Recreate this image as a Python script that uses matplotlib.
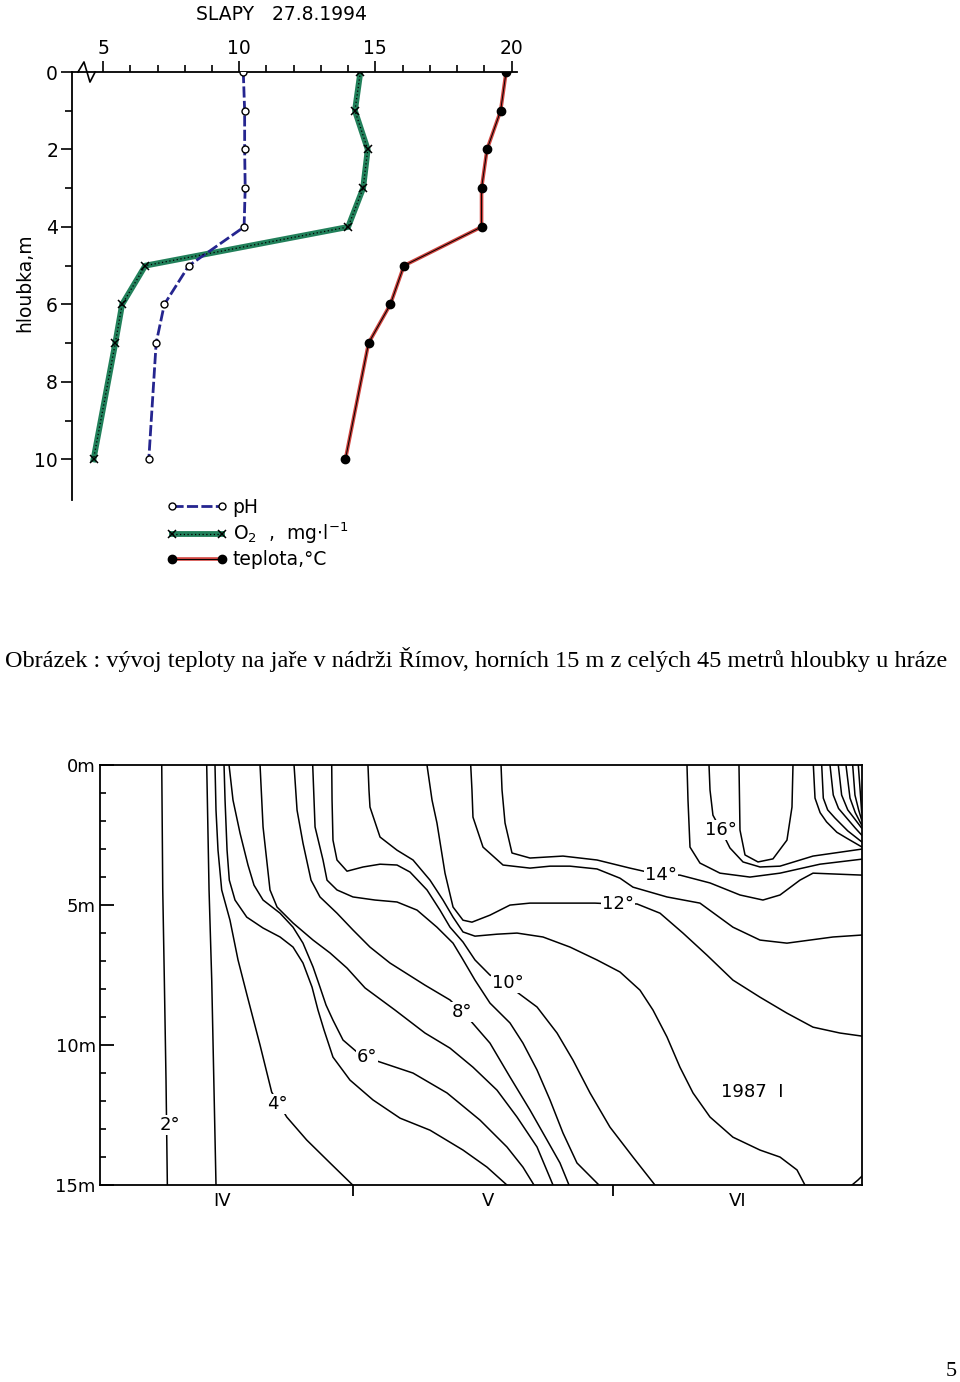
import numpy as np
import matplotlib
matplotlib.use('Agg')
import matplotlib.pyplot as plt
from matplotlib.lines import Line2D

# --- horni graf: SLAPY 27.8.1994 (profil v hloubce)
hloubka = [0, 1, 2, 3, 4, 5, 6, 7, 10]
ph = [10.15, 10.2, 10.2, 10.22, 10.18, 8.15, 7.25, 6.95, 6.68]
kyslik = [14.45, 14.25, 14.72, 14.55, 14.0, 6.55, 5.7, 5.45, 4.65]
teplota = [19.8, 19.6, 19.1, 18.9, 18.9, 16.05, 15.55, 14.75, 13.9]

# --- dolni graf: izotermy Rimov 1987, den od 1.4. / hloubka m
t2_den = [7.37, 7.49, 7.68, 7.88, 8.04]
t2_hl = [0, 4.46, 7.68, 11.25, 15.0]
t3_den = [12.74, 13.02, 13.34, 13.85]
t3_hl = [0, 4.46, 7.68, 15.0]
t4_den = [13.73, 13.85, 14.09, 14.53, 15.52, 16.48, 17.55, 19.11, 20.50, 22.30, 24.68, 27.47, 30.18]
t4_hl = [0, 1.61, 3.04, 4.46, 5.54, 6.96, 8.21, 10.0, 11.68, 12.57, 13.39, 14.21, 15.0]
t5_den = [14.81, 14.93, 15.17, 15.44, 16.12, 17.52, 19.47, 21.50, 23.05, 24.24, 25.32, 26.03,
          26.75, 27.82, 29.85, 32.60, 35.83, 39.41, 43.35, 46.22, 48.60]
t5_hl = [0, 1.25, 3.04, 4.11, 4.82, 5.43, 5.82, 6.14, 6.5, 7.07, 7.93, 8.75,
         9.46, 10.43, 11.25, 11.96, 12.61, 13.04, 13.75, 14.36, 15.0]
t6_den = [15.41, 15.88, 16.72, 17.67, 18.39, 19.47, 21.50, 23.05, 24.24, 25.44, 26.27, 26.99,
          27.82, 29.02, 30.69, 31.88, 33.08, 37.38, 41.44, 45.38, 48.60, 50.51, 51.83]
t6_hl = [0, 1.25, 2.43, 3.57, 4.29, 4.82, 5.29, 5.79, 6.36, 7.21, 7.93, 8.57,
         9.11, 9.82, 10.25, 10.43, 10.57, 11.0, 11.71, 12.68, 13.64, 14.36, 15.0]
t7_den = [19.11, 19.47, 20.30, 21.14, 23.05, 25.44, 27.47, 29.50, 31.65, 35.23, 38.81, 41.80,
          44.54, 47.41, 49.80, 52.19, 54.10]
t7_hl = [0, 2.21, 4.46, 5.07, 5.64, 6.25, 6.71, 7.25, 7.96, 8.75, 9.57, 10.11,
         10.79, 11.61, 12.57, 13.64, 15.0]
t8_den = [23.17, 23.53, 24.24, 25.20, 26.27, 28.30, 30.21, 32.24, 34.63, 38.81, 41.80, 43.23,
          44.19, 46.57, 48.96, 51.35, 53.38, 54.93, 56.01]
t8_hl = [0, 1.61, 2.79, 4.11, 4.71, 5.29, 5.89, 6.5, 7.07, 7.86, 8.39, 8.82,
         9.11, 9.93, 11.14, 12.32, 13.39, 14.21, 15.0]
t9_den = [25.40, 25.68, 26.63, 27.11, 28.30, 30.21, 32.84, 35.47, 37.86, 40.24, 42.16, 43.23,
          44.78, 46.57, 48.96, 50.51, 52.19, 53.74, 55.29, 56.96, 59.59]
t9_hl = [0, 2.21, 3.39, 4.11, 4.46, 4.71, 4.82, 4.89, 5.18, 5.79, 6.36, 6.89,
         7.68, 8.5, 9.21, 9.93, 10.89, 11.96, 13.14, 14.21, 15.0]
t10_den = [27.67, 27.71, 27.82, 28.30, 29.50, 31.41, 33.44, 35.47, 37.02, 39.05, 40.60, 41.80,
           43.35, 44.78, 46.57, 48.72, 49.80, 52.19, 54.58, 56.49, 58.52, 60.90, 63.65, 66.28]
t10_hl = [0, 1.25, 2.68, 3.39, 3.79, 3.64, 3.54, 3.57, 3.82, 4.46, 5.18, 5.79,
          6.32, 6.96, 7.5, 7.79, 8.11, 8.64, 9.57, 10.54, 11.71, 12.93, 14.0, 15.0]
t11_den = [32.00, 32.12, 32.24, 33.44, 35.47, 37.38, 39.41, 40.96, 42.16, 43.35, 44.78, 47.41,
           49.80, 52.90, 56.13, 59.35, 62.10, 64.49, 66.04, 67.71, 69.26, 70.82, 72.85, 75.59,
           78.82, 81.21, 83.24, 84.19]
t11_hl = [0, 0.89, 1.5, 2.57, 3.04, 3.39, 4.11, 4.82, 5.43, 5.96, 6.11, 6.04,
          6.0, 6.14, 6.5, 6.96, 7.39, 8.04, 8.75, 9.71, 10.79, 11.71, 12.57, 13.29,
          13.75, 14.0, 14.46, 15.0]
t12_den = [39.05, 39.65, 40.24, 41.20, 42.16, 43.35, 44.42, 46.57, 48.96, 51.35, 54.93, 59.11,
           61.26, 64.13, 66.88, 69.62, 72.49, 75.59, 78.82, 82.04, 85.15, 88.37, 91.0]
t12_hl = [0, 1.25, 2.07, 3.86, 5.07, 5.54, 5.61, 5.36, 5.0, 4.93, 4.93, 4.93,
          4.96, 4.96, 5.29, 6.0, 6.79, 7.68, 8.29, 8.86, 9.36, 9.57, 9.68]
t12b_den = [89.80, 90.52, 91.0]
t12b_hl = [15.0, 14.82, 14.68]
t13_den = [44.27, 44.42, 44.54, 45.74, 48.13, 51.35, 53.74, 56.13, 59.35, 62.10, 63.65, 67.71,
           71.65, 75.59, 78.82, 82.04, 87.54, 91.0]
t13_hl = [0, 0.89, 1.86, 2.93, 3.57, 3.68, 3.61, 3.61, 3.71, 4.04, 4.36, 4.71,
          4.93, 5.79, 6.25, 6.36, 6.14, 6.07]
t14_den = [47.89, 48.01, 48.37, 49.20, 51.35, 55.29, 59.35, 63.29, 66.99, 69.26, 72.85, 76.43,
           79.17, 81.21, 83.59, 85.15, 91.0]
t14_hl = [0, 0.89, 2.07, 3.14, 3.32, 3.25, 3.39, 3.68, 3.93, 3.93, 4.21, 4.64,
          4.82, 4.64, 4.11, 3.86, 3.93]
t15_den = [70.10, 70.22, 70.46, 71.65, 74.04, 77.62, 81.21, 85.98, 91.0]
t15_hl = [0, 1.25, 2.93, 3.5, 3.86, 4.0, 3.86, 3.54, 3.36]
t16_den = [72.73, 72.85, 73.20, 74.16, 75.23, 76.79, 78.82, 81.21, 85.15, 91.0]
t16_hl = [0, 0.89, 1.79, 2.32, 2.96, 3.46, 3.64, 3.61, 3.25, 3.0]
t17_den = [76.31, 76.43, 77.03, 78.58, 80.37, 82.04, 82.64, 82.76]
t17_hl = [0, 2.32, 3.21, 3.46, 3.35, 2.68, 1.5, 0]
t17b_den = [85.19, 85.39, 86.0, 86.77, 88.0, 89.17, 90.96]
t17b_hl = [0, 1.18, 1.7, 2.03, 2.4, 2.61, 2.92]
t18_den = [86.19, 86.38, 86.9, 87.77, 89.3, 90.96]
t18_hl = [0, 1.18, 1.6, 1.89, 2.35, 2.74]
t19_den = [87.18, 87.57, 88.2, 89.17, 90.2, 90.96]
t19_hl = [0, 1.07, 1.55, 1.89, 2.25, 2.5]
t20_den = [88.17, 88.57, 89.3, 90.2, 90.96]
t20_hl = [0, 1.07, 1.6, 1.95, 2.25]
t21_den = [89.09, 89.57, 90.2, 90.96]
t21_hl = [0, 1.18, 1.7, 2.14]
t22_den = [89.89, 90.16, 90.6, 90.96]
t22_hl = [0, 1.07, 1.6, 1.96]
t23_den = [90.56, 90.76, 90.96]
t23_hl = [0, 0.82, 1.68]

mesice = ['IV', 'V', 'VI']
popis = "Obrázek : vývoj teploty na jaře v nádrži Římov, horních 15 m z celých 45 metrů hloubky u hráze"


def horni(fig):
    ax = fig.add_axes([0.075, 0.6382, 0.4635, 0.3097])
    ax.set_xlim(3.86, 20.2)
    ax.set_ylim(11.05, 0)
    for s in ['right', 'bottom']:
        ax.spines[s].set_visible(False)
    for s in ['top', 'left']:
        ax.spines[s].set_linewidth(1.3)
    ax.xaxis.tick_top()
    ax.set_xticks([5, 10, 15, 20])
    ax.set_xticks([i for i in range(6, 20) if i % 5], minor=True)
    ax.set_yticks([0, 2, 4, 6, 8, 10])
    ax.set_yticks([1, 3, 5, 7, 9], minor=True)
    ax.tick_params(which='major', length=8, width=1.2, labelsize=13.5, pad=2)
    ax.tick_params(which='minor', length=5, width=1.2)

    # zlom osy
    ax.plot([4.08, 4.30, 4.52, 4.71], [0, -0.26, 0.26, 0], color='black', lw=1.2, clip_on=False)

    c_ph = '#25258f'
    c_o2 = '#21805a'
    c_t = '#d0443f'
    ax.plot(ph, hloubka, color=c_ph, lw=2.0, ls=(0, (4, 1.2)), zorder=3)
    ax.plot(ph, hloubka, ls='none', marker='o', ms=5, mfc='white', mec='black', mew=1.0, zorder=5)
    ax.plot(kyslik, hloubka, color=c_o2, lw=4.2, zorder=2)
    ax.plot(kyslik, hloubka, color='black', lw=0.9, ls=(0, (1, 2)), zorder=3)
    ax.plot(kyslik, hloubka, ls='none', marker='x', ms=6, mec='black', mew=1.1, zorder=5)
    ax.plot(teplota, hloubka, color=c_t, lw=2.6, zorder=2)
    ax.plot(teplota, hloubka, color='black', lw=0.7, zorder=3)
    ax.plot(teplota, hloubka, ls='none', marker='o', ms=6, mfc='black', mec='black', zorder=5)

    h1 = (Line2D([], [], color=c_ph, lw=2.0, ls=(0, (4, 1.2))),
          Line2D([], [], ls='none', marker='o', ms=5, mfc='white', mec='black', mew=1.0))
    h2 = (Line2D([], [], color=c_o2, lw=4.2),
          Line2D([], [], color='black', lw=0.9, ls=(0, (1, 2))),
          Line2D([], [], ls='none', marker='x', ms=6, mec='black', mew=1.1))
    h3 = (Line2D([], [], color=c_t, lw=2.6),
          Line2D([], [], color='black', lw=0.7),
          Line2D([], [], ls='none', marker='o', ms=6, mfc='black', mec='black'))
    fig.legend([h1, h2, h3], ['pH', r'O$_2$  ,  mg$\cdot$l$^{-1}$', 'teplota,°C'],
               loc='upper left', bbox_to_anchor=(0.173, 0.640), frameon=False,
               fontsize=13.5, handlelength=3.3, handletextpad=0.25, labelspacing=0.22,
               numpoints=2, borderpad=0, borderaxespad=0)

    fig.text(282 / 960, 1 - 15 / 1382, 'SLAPY   27.8.1994', ha='center', va='center', size=13.5)
    fig.text(25 / 960, 1 - 283 / 1382, 'hloubka,m', rotation=90, ha='center', va='center', size=13.5)


def dolni(fig):
    ax = fig.add_axes([0.1042, 0.1425, 0.7937, 0.3039])
    ax.set_xlim(0, 91)
    ax.set_ylim(15, 0)
    for s in ax.spines.values():
        s.set_linewidth(1.3)

    ax.set_yticks([0, 5, 10, 15])
    ax.set_yticklabels(['0m', '5m', '10m', '15m'])
    ax.set_yticks([1, 2, 3, 4, 6, 7, 8, 9, 11, 12, 13, 14], minor=True)
    ax.tick_params(axis='y', which='major', direction='in', length=10, width=1.3, labelsize=13, pad=3)
    ax.tick_params(axis='y', which='minor', direction='in', length=4.5, width=1.2)
    ax.set_xticks([30.2, 61.3])
    ax.set_xticklabels([])
    ax.set_xticks([14.6, 46.3, 76.1], minor=True)
    ax.set_xticklabels(mesice, minor=True)
    ax.tick_params(axis='x', which='major', direction='out', length=8, width=1.3)
    ax.tick_params(axis='x', which='minor', length=0, labelsize=13, pad=5)

    izo = [(t2_den, t2_hl), (t3_den, t3_hl), (t4_den, t4_hl), (t5_den, t5_hl),
           (t6_den, t6_hl), (t7_den, t7_hl), (t8_den, t8_hl), (t9_den, t9_hl),
           (t10_den, t10_hl), (t11_den, t11_hl), (t12_den, t12_hl), (t12b_den, t12b_hl),
           (t13_den, t13_hl), (t14_den, t14_hl), (t15_den, t15_hl), (t16_den, t16_hl),
           (t17_den, t17_hl), (t17b_den, t17b_hl), (t18_den, t18_hl), (t19_den, t19_hl),
           (t20_den, t20_hl), (t21_den, t21_hl), (t22_den, t22_hl), (t23_den, t23_hl)]
    for d, h in izo:
        ax.plot(d, h, color='black', lw=1.1, solid_joinstyle='round')

    stitky = [('2°', 8.36, 12.86), ('4°', 21.14, 12.11), ('6°', 31.88, 10.43),
              ('8°', 43.23, 8.82), ('10°', 48.72, 7.79), ('12°', 61.86, 4.96),
              ('14°', 66.99, 3.93), ('16°', 74.16, 2.32)]
    for t, x, y in stitky:
        ax.text(x, y, t, ha='center', va='center', fontsize=13, zorder=5,
                bbox=dict(facecolor='white', edgecolor='none', pad=0.8))
    ax.text(77.86, 11.68, '1987  I', ha='center', va='center', fontsize=13)


def main():
    fig = plt.figure(figsize=(9.6, 13.82), dpi=100)
    horni(fig)
    dolni(fig)

    cap = fig.text(5 / 960, 1 - 660 / 1382, popis, ha='left', va='center',
                   family='Liberation Serif', size=16)
    fig.canvas.draw()
    w = cap.get_window_extent().width
    cap.set_fontsize(16 * 942 / w)
    fig.text(957 / 960, 1 - 1371 / 1382, '5', ha='right', va='center',
             family='Liberation Serif', size=16)

    fig.savefig('out.png', dpi=100, facecolor='white')


if __name__ == '__main__':
    main()
